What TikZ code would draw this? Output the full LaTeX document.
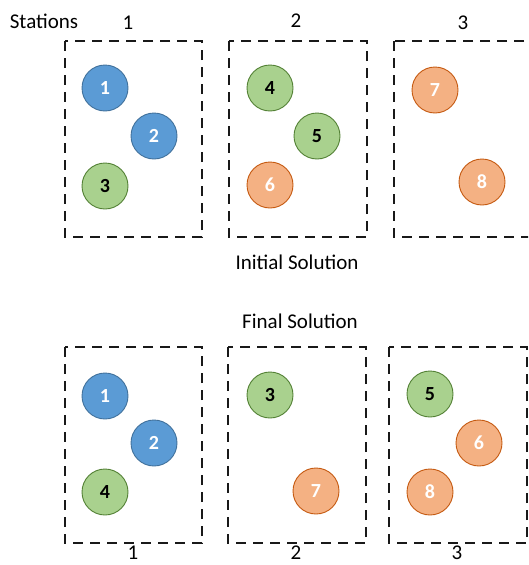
\documentclass[tikz,border=0pt]{standalone}
\usepackage{fontspec}
\setmainfont{Carlito}
\begin{document}
\begin{tikzpicture}[x=1pt,y=-1pt,
  station/.style={draw=black!90, line width=2.8pt, dash pattern=on 10pt off 7pt},
  job/.style={circle, minimum size=46pt, inner sep=0pt, line width=0.9pt, font=\fontsize{20}{22}\selectfont\bfseries},
  blue job/.style={job, fill={rgb,255:red,91;green,155;blue,213}, draw={rgb,255:red,65;green,113;blue,156}, text=white},
  green job/.style={job, fill={rgb,255:red,169;green,209;blue,142}, draw={rgb,255:red,83;green,129;blue,53}, text=black},
  orange job/.style={job, fill={rgb,255:red,244;green,177;blue,131}, draw={rgb,255:red,197;green,90;blue,17}, text=white},
  lbl/.style={font=\fontsize{21}{23}\selectfont, text=black, inner sep=0pt}]
\useasboundingbox (0,0) rectangle (528,565);
\clip (0,0) rectangle (528,565);

% initial solution
\node[lbl] (stations) at (44,21) {Stations};
\node[lbl] (t1) at (128,23) {1};
\node[lbl] (t2) at (296,21) {2};
\node[lbl] (t3) at (463,23) {3};
\draw[station] (65,41) rectangle (202,237);
\draw[station] (229,41) rectangle (367,237);
\draw[station] (394,41) rectangle (535,237);
\node[blue job] (a1) at (105,88) {1};
\node[blue job] (a2) at (154,136) {2};
\node[green job] (a3) at (105,186) {3};
\node[green job] (a4) at (270,88) {4};
\node[green job] (a5) at (317,136) {5};
\node[orange job] (a6) at (270,185) {6};
\node[orange job] (a7) at (435,90) {7};
\node[orange job] (a8) at (482,182) {8};
\node[lbl] (initial) at (297,262) {Initial Solution};

% final solution
\node[lbl] (final) at (300,321) {Final Solution};
\draw[station] (65,347) rectangle (202,543);
\draw[station] (228,347) rectangle (366,543);
\draw[station] (389,347) rectangle (527,543);
\node[blue job] (b1) at (105,396) {1};
\node[blue job] (b2) at (154,443) {2};
\node[green job] (b4) at (105,492) {4};
\node[green job] (b3) at (270,395) {3};
\node[orange job] (b7) at (316,491) {7};
\node[green job] (b5) at (430,394) {5};
\node[orange job] (b6) at (479,443) {6};
\node[orange job] (b8) at (430,492) {8};
\node[lbl] (s1) at (133,553) {1};
\node[lbl] (s2) at (296,553) {2};
\node[lbl] (s3) at (457,553) {3};
\end{tikzpicture}
\end{document}
